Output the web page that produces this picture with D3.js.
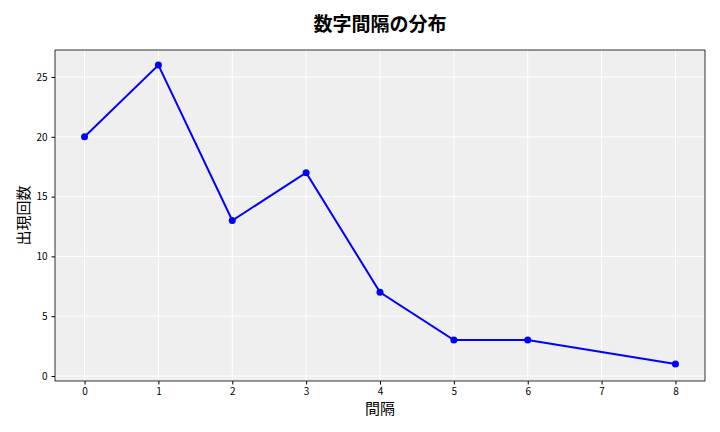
<!DOCTYPE html>
<html><head><meta charset="utf-8">
<script src="https://cdn.jsdelivr.net/npm/d3@7"></script>
<style>body{margin:0;background:#fff}text{font-family:"Noto Sans CJK JP",sans-serif}</style>
</head><body><svg id="c" width="720" height="432"></svg>
<script>
const gaps = [0, 1, 2, 3, 4, 5, 6, 8];
const counts = [20, 26, 13, 17, 7, 3, 3, 1];
const xTicks = [0, 1, 2, 3, 4, 5, 6, 7, 8];
const yTicks = [0, 5, 10, 15, 20, 25];

const svg = d3.select('#c');
const m = {l: 55, r: 705, t: 50, b: 381};
const x = d3.scaleLinear().domain([-0.4, 8.4]).range([m.l, m.r]);
const y = d3.scaleLinear().domain([-0.42, 27.26]).range([m.b, m.t]);

svg.append('rect').attr('x', m.l).attr('y', m.t)
    .attr('width', m.r - m.l).attr('height', m.b - m.t).attr('fill', '#efefef');

// Grid
svg.append('g').selectAll('line').data(xTicks).join('line')
    .attr('x1', d => x(d)).attr('x2', d => x(d)).attr('y1', m.t).attr('y2', m.b)
    .attr('stroke', '#fff').attr('stroke-width', 1);
svg.append('g').selectAll('line').data(yTicks).join('line')
    .attr('y1', d => y(d)).attr('y2', d => y(d)).attr('x1', m.l).attr('x2', m.r)
    .attr('stroke', '#fff').attr('stroke-width', 1);

svg.append('rect').attr('x', m.l).attr('y', m.t)
    .attr('width', m.r - m.l).attr('height', m.b - m.t)
    .attr('fill', 'none').attr('stroke', '#000').attr('stroke-width', 0.8);

const xa = svg.append('g').attr('transform', `translate(0,${m.b})`)
    .call(d3.axisBottom(x).tickValues(xTicks).tickSize(3.5).tickPadding(3));
const ya = svg.append('g').attr('transform', `translate(${m.l},0)`)
    .call(d3.axisLeft(y).tickValues(yTicks).tickSize(3.5).tickPadding(4));
[xa, ya].forEach(a => {
  a.select('.domain').remove();
  a.selectAll('text').attr('font-size', 10).attr('fill', '#000');
});

const line = d3.line().x((d, i) => x(gaps[i])).y(d => y(d));
svg.append('path').datum(counts).attr('d', line)
    .attr('fill', 'none').attr('stroke', '#0000ff').attr('stroke-width', 2);
svg.append('g').selectAll('circle').data(counts).join('circle')
    .attr('cx', (d, i) => x(gaps[i])).attr('cy', d => y(d)).attr('r', 3.5)
    .attr('fill', '#0000ff');

svg.append('text').attr('x', 380).attr('y', 31).attr('text-anchor', 'middle')
    .attr('font-size', 19).attr('font-weight', 'bold').text('数字間隔の分布');
svg.append('text').attr('x', 380).attr('y', 414).attr('text-anchor', 'middle')
    .attr('font-size', 15).text('間隔');
svg.append('text').attr('transform', `translate(29,${(m.t + m.b) / 2}) rotate(-90)`)
    .attr('text-anchor', 'middle').attr('font-size', 15).text('出現回数');
</script></body></html>
